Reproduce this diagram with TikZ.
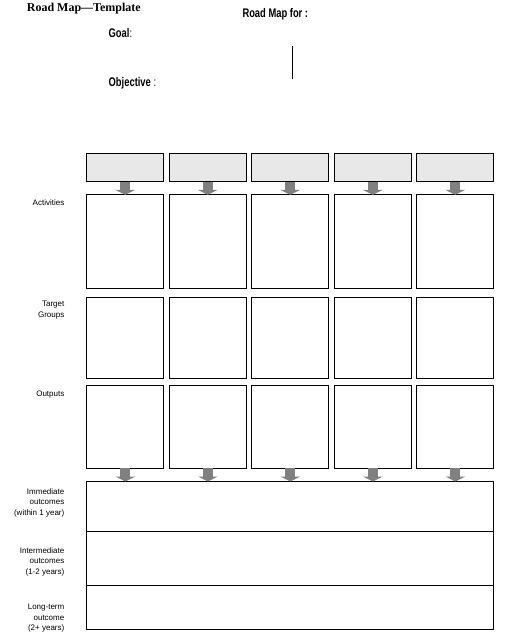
\documentclass[tikz,border=0pt]{standalone}
\usepackage{fontspec}
\newfontfamily\titlefont{Liberation Serif}
\newfontfamily\narrowfont[FakeStretch=0.75]{Liberation Sans}
\newfontfamily\labelfont{Liberation Sans}
\usetikzlibrary{positioning,arrows.meta}
\definecolor{headgray}{HTML}{E8E8E8}
\definecolor{arrowgray}{HTML}{808080}

\begin{document}
\begin{tikzpicture}[x=1pt,y=-1pt]
    \useasboundingbox (0,0) rectangle (504,637);
    \begin{scope}[node distance=5.5pt,
        myhead/.style={rectangle, draw, line width=1pt, inner sep=0pt, outer sep=0pt, minimum width=77pt, minimum height=28pt, fill=headgray},
        mybox/.style={rectangle, draw, line width=1pt, inner sep=0pt, outer sep=0pt, minimum width=77pt},
        myrow/.style={rectangle, draw, line width=1pt, inner sep=0pt, outer sep=0pt, minimum width=407pt},
        mylabel/.style={font=\labelfont\fontsize{8}{10.5}\selectfont, align=right, inner sep=0pt},
        mytitle/.style={anchor=base west, inner sep=0pt, font=\narrowfont\bfseries\fontsize{12.5}{15}\selectfont},
        myarrow/.style={draw=arrowgray, line width=10pt, {Triangle[width=20pt,length=5pt,line width=0pt]}-}]
    % heading
    \node [mytitle, font=\titlefont\bfseries\fontsize{12}{14}\selectfont] (title) at (26.7,11.7) {Road Map—Template};
    \node [mytitle] (mapfor) at (242.3,17.7) {Road Map for :};
    \node [mytitle] (goal) at (108.5,37.5) {Goal\mdseries:};
    \node [mytitle] (objective) at (108.5,86.5) {Objective\mdseries{} :};
    \draw [line width=1pt] (292.3,46) -- (292.3,79);
    % top row
    \node [myhead] (h1) at (125.3,167.8) {};
    \node [myhead, right=of h1] (h2) {};
    \node [myhead, right=of h2] (h3) {};
    \node [myhead, right=of h3] (h4) {};
    \node [myhead, right=of h4] (h5) {};
    % activities
    \node [mybox, minimum height=93.7pt, below=13pt of h1] (a1) {} edge [myarrow] (h1);
    \node [mybox, minimum height=93.7pt, below=13pt of h2] (a2) {} edge [myarrow] (h2);
    \node [mybox, minimum height=93.7pt, below=13pt of h3] (a3) {} edge [myarrow] (h3);
    \node [mybox, minimum height=93.7pt, below=13pt of h4] (a4) {} edge [myarrow] (h4);
    \node [mybox, minimum height=93.7pt, below=13pt of h5] (a5) {} edge [myarrow] (h5);
    % target groups
    \node [mybox, minimum height=81pt, below=9.3pt of a1] (t1) {};
    \node [mybox, minimum height=81pt, below=9.3pt of a2] (t2) {};
    \node [mybox, minimum height=81pt, below=9.3pt of a3] (t3) {};
    \node [mybox, minimum height=81pt, below=9.3pt of a4] (t4) {};
    \node [mybox, minimum height=81pt, below=9.3pt of a5] (t5) {};
    % outputs
    \node [mybox, minimum height=82.5pt, below=7pt of t1] (o1) {};
    \node [mybox, minimum height=82.5pt, below=7pt of t2] (o2) {};
    \node [mybox, minimum height=82.5pt, below=7pt of t3] (o3) {};
    \node [mybox, minimum height=82.5pt, below=7pt of t4] (o4) {};
    \node [mybox, minimum height=82.5pt, below=7pt of t5] (o5) {};
    % outcomes
    \node [myrow, minimum height=49.5pt, anchor=north west] (imm) at ([yshift=-13.2pt]o1.south west) {};
    \node [myrow, minimum height=54.3pt, below=0pt of imm] (inter) {};
    \node [myrow, minimum height=44.5pt, below=0pt of inter] (long) {};
    \draw [myarrow] (imm.north -| o1) -- (o1);
    \draw [myarrow] (imm.north -| o2) -- (o2);
    \draw [myarrow] (imm.north -| o3) -- (o3);
    \draw [myarrow] (imm.north -| o4) -- (o4);
    \draw [myarrow] (imm.north -| o5) -- (o5);
    % row labels
    \node [mylabel, anchor=base east] (lact) at (64.5,205) {Activities};
    \node [mylabel, anchor=north east] (ltarget) at (64.5,301) {Target\\Groups};
    \node [mylabel, anchor=base east] (lout) at (64.5,396) {Outputs};
    \node [mylabel, anchor=north east] (limm) at (64.5,488) {Immediate\\outcomes\\(within 1 year)};
    \node [mylabel, anchor=north east] (linter) at (64.5,547.3) {Intermediate\\outcomes\\(1-2 years)};
    \node [mylabel, anchor=north east] (llong) at (64.5,604) {Long-term\\outcome\\(2+ years)};
    \end{scope}
\end{tikzpicture}
\end{document}
